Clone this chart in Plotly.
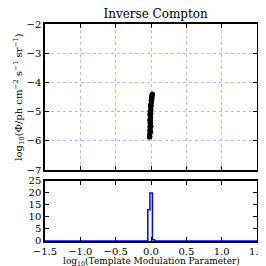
import plotly.graph_objects as go

# Scatter samples (template modulation parameter vs log flux)
mod_param = [-0.022, -0.015, -0.020, -0.012, -0.018, -0.010, -0.016, -0.008, -0.014, -0.006,
             -0.012, -0.004, -0.010, -0.002, -0.008, 0.000, -0.005, 0.004, -0.002, 0.008,
             0.002, 0.012, 0.006, 0.016, 0.012, 0.020, -0.018, -0.014, -0.009, 0.000,
             -0.004, -0.016, -0.006, 0.010, 0.014]
log_flux = [-5.88, -5.85, -5.78, -5.72, -5.65, -5.60, -5.52, -5.46, -5.40, -5.33,
            -5.26, -5.20, -5.12, -5.06, -4.98, -4.93, -4.86, -4.80, -4.74, -4.68,
            -4.62, -4.56, -4.50, -4.46, -4.42, -4.40, -5.30, -5.00, -4.80, -5.50,
            -5.70, -5.10, -5.40, -4.60, -4.52]

# Histogram (step) of modulation parameter
hist_edges = [-1.5, -0.045, -0.015, 0.02, 0.05, 1.5]
hist_counts = [0, 13, 20, 0.5, 0]

x_ticks = [-1.5, -1.0, -0.5, 0.0, 0.5, 1.0, 1.5]
x_tick_text = ["−1.5", "−1.0", "−0.5", "0.0", "0.5", "1.0", "1.5"]
y_ticks_top = [-7, -6, -5, -4, -3, -2]
y_ticks_bot = [0, 5, 10, 15, 20, 25]

# Build step line from the histogram
step_x, step_y = [], []
for i, c in enumerate(hist_counts):
    step_x += [hist_edges[i], hist_edges[i + 1]]
    step_y += [c, c]

FONT = "DejaVu Serif"
fig = go.Figure()
fig.add_trace(go.Scatter(x=mod_param, y=log_flux, mode="markers",
                         marker=dict(color="black", size=5, line=dict(width=0)),
                         xaxis="x", yaxis="y", showlegend=False))
fig.add_trace(go.Scatter(x=step_x, y=step_y, mode="lines",
                         line=dict(color="blue", width=1.5, shape="linear"),
                         xaxis="x2", yaxis="y2", showlegend=False))

axis_common = dict(showline=True, linecolor="black", linewidth=1.5, mirror="ticks",
                   ticks="inside", ticklen=4, tickcolor="black", zeroline=False,
                   tickfont=dict(family=FONT, size=10, color="black"))

fig.update_layout(
    width=266, height=266,
    margin=dict(l=37, r=9, t=16, b=33),
    paper_bgcolor="white", plot_bgcolor="white",
    font=dict(family=FONT, color="black"),
    title=dict(text="Inverse Compton", x=0.555, xanchor="center", y=0.995, yanchor="top",
               font=dict(family=FONT, size=12, color="black")),
    xaxis=dict(domain=[0, 1], anchor="y", range=[-1.5, 1.5], tickvals=x_ticks,
               showticklabels=False, showgrid=True, gridcolor="#b4b4ff", griddash="dot",
               gridwidth=1, **axis_common),
    yaxis=dict(domain=[0.327, 1], anchor="x", range=[-7, -2], tickvals=y_ticks_top,
               ticktext=["−7", "−6", "−5", "−4", "−3", "−2"],
               showgrid=True, gridcolor="#b4b4ff", griddash="dot", gridwidth=1,
               title=dict(text="log<sub>10</sub>(Φ/ph cm<sup>−2</sup> s<sup>−1</sup> sr<sup>−1</sup>)",
                          font=dict(family=FONT, size=10), standoff=2),
               **axis_common),
    xaxis2=dict(domain=[0, 1], anchor="y2", range=[-1.5, 1.5], tickvals=x_ticks,
                ticktext=x_tick_text, showgrid=False, **axis_common),
    yaxis2=dict(domain=[0, 0.2765], anchor="x2", range=[0, 25], tickvals=y_ticks_bot,
                showgrid=False, **axis_common),
    annotations=[dict(text="log<sub>10</sub>(Template Modulation Parameter)",
                      xref="paper", yref="paper", x=0.5, y=-0.093, xanchor="center",
                      yanchor="middle", showarrow=False,
                      font=dict(family=FONT, size=9, color="black"))],
)

fig.write_html("out.html")
